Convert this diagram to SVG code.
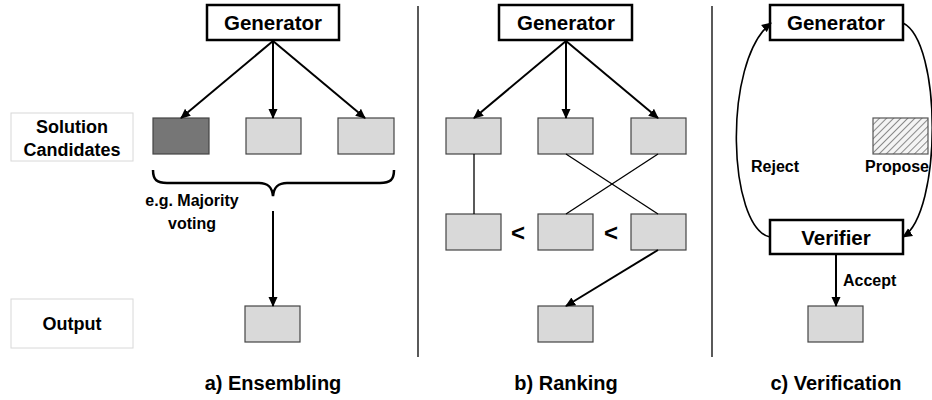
<svg xmlns="http://www.w3.org/2000/svg" width="932" height="400" viewBox="0 0 932 400">
<defs>
<marker id="ah" markerUnits="userSpaceOnUse" markerWidth="10" markerHeight="10" refX="9" refY="5" orient="auto">
<path d="M0,0.5 L10,5 L0,9.5 Z" fill="#000"/>
</marker>
<pattern id="hatch" patternUnits="userSpaceOnUse" width="5" height="5" patternTransform="rotate(45)">
<rect width="5" height="5" fill="#f4f4f4"/>
<line x1="0" y1="0" x2="0" y2="5" stroke="#8a8a8a" stroke-width="2"/>
</pattern>
<style>
text{font-family:"Liberation Sans",Arial,sans-serif;font-weight:bold;fill:#000}
.gen{fill:#fff;stroke:#000;stroke-width:2.5}
.gt{font-size:20.5px;text-anchor:middle}
.cand{fill:#d9d9d9;stroke:#444;stroke-width:1.2}
.dark{fill:#767676;stroke:#444;stroke-width:1.2}
.lab{fill:#fff;stroke:#d8d8d8;stroke-width:1}
.lt{font-size:18px;text-anchor:middle}
.title{font-size:20px;text-anchor:middle}
.arr{stroke:#000;stroke-width:2;fill:none;marker-end:url(#ah)}
.thin{stroke:#000;stroke-width:1.3;fill:none}
.div{stroke:#000;stroke-width:1.3}
.sm{font-size:16px}
</style>
</defs>

<g id="label-solution">
<rect class="lab" x="11" y="113" width="122" height="48"/>
<text class="lt" x="72" y="133">Solution</text>
<text class="lt" x="72" y="156">Candidates</text>
</g>
<g id="label-output">
<rect class="lab" x="11" y="299" width="122" height="49"/>
<text class="lt" x="72" y="330">Output</text>
</g>

<g id="dividers">
<line class="div" x1="418" y1="6" x2="418" y2="357"/>
<line class="div" x1="712" y1="6" x2="712" y2="357"/>
</g>

<!-- Panel a -->
<g id="a-generator"><rect class="gen" x="207" y="5" width="132" height="35"/><text class="gt" x="273" y="29.5">Generator</text></g>
<g id="a-cand1"><rect class="dark" x="153" y="118" width="56" height="36"/></g>
<g id="a-cand2"><rect class="cand" x="246" y="118" width="55" height="36"/></g>
<g id="a-cand3"><rect class="cand" x="338" y="118" width="56" height="36"/></g>
<g id="a-brace"><path d="M153,170 C153,180 157,183 167,183 L259,183 C268,183 272,187 273,196 C274,187 278,183 287,183 L380,183 C390,183 394,180 394,170" fill="none" stroke="#000" stroke-width="2.5"/></g>
<g id="a-vote-label"><text class="sm" x="192" y="206" text-anchor="middle">e.g. Majority</text><text class="sm" x="192" y="229" text-anchor="middle">voting</text></g>
<g id="a-output"><rect class="cand" x="245" y="306" width="55" height="36"/></g>
<g id="a-title"><text class="title" x="273" y="390">a) Ensembling</text></g>

<!-- Panel b -->
<g id="b-generator"><rect class="gen" x="499" y="5" width="133" height="35"/><text class="gt" x="566" y="29.5">Generator</text></g>
<g id="b-top1"><rect class="cand" x="446" y="118" width="55" height="36"/></g>
<g id="b-top2"><rect class="cand" x="538" y="118" width="55" height="36"/></g>
<g id="b-top3"><rect class="cand" x="631" y="118" width="55" height="36"/></g>
<g id="b-mid1"><rect class="cand" x="446" y="214" width="55" height="36"/></g>
<g id="b-mid2"><rect class="cand" x="538" y="214" width="55" height="36"/></g>
<g id="b-mid3"><rect class="cand" x="631" y="214" width="55" height="36"/></g>
<g id="b-lt"><text x="518" y="241" font-size="24" text-anchor="middle">&lt;</text><text x="611" y="241" font-size="24" text-anchor="middle">&lt;</text></g>
<g id="b-output"><rect class="cand" x="538" y="306" width="55" height="36"/></g>
<g id="b-title"><text class="title" x="566" y="390">b) Ranking</text></g>

<!-- Panel c -->
<g id="c-generator"><rect class="gen" x="770" y="5" width="133" height="35"/><text class="gt" x="836" y="29.5">Generator</text></g>
<g id="c-proposal"><rect x="873" y="118" width="55" height="36" fill="url(#hatch)" stroke="#555" stroke-width="1.2"/></g>
<g id="c-verifier"><rect class="gen" x="770" y="220" width="133" height="34"/><text class="gt" x="836" y="244.5">Verifier</text></g>
<g id="c-output"><rect class="cand" x="808" y="306" width="55" height="36"/></g>
<g id="c-labels">
<text class="sm" x="775" y="172" text-anchor="middle">Reject</text>
<text class="sm" x="897" y="172" text-anchor="middle">Propose</text>
<text class="sm" x="843" y="286">Accept</text>
</g>
<g id="c-title"><text class="title" x="836" y="390">c) Verification</text></g>

<g id="connectors">
<line class="arr" x1="273" y1="41" x2="181" y2="118"/>
<line class="arr" x1="273" y1="41" x2="273" y2="118"/>
<line class="arr" x1="273" y1="41" x2="365" y2="118"/>
<line class="arr" x1="273" y1="211" x2="273" y2="306"/>

<line class="arr" x1="566" y1="41" x2="474" y2="118"/>
<line class="arr" x1="566" y1="41" x2="566" y2="118"/>
<line class="arr" x1="566" y1="41" x2="658" y2="118"/>
<line class="thin" x1="474" y1="154" x2="474" y2="214"/>
<line class="thin" x1="566" y1="154" x2="658" y2="214"/>
<line class="thin" x1="658" y1="154" x2="566" y2="214"/>
<line class="arr" x1="658" y1="250" x2="566" y2="306"/>

<path class="arr" style="stroke-width:1.6" d="M770,237 C728,228 722,62 771,23"/>
<path class="arr" style="stroke-width:1.6" d="M903,23 C942,42 942,212 903,237"/>
<line class="arr" x1="836" y1="254" x2="836" y2="306"/>
</g>
</svg>
